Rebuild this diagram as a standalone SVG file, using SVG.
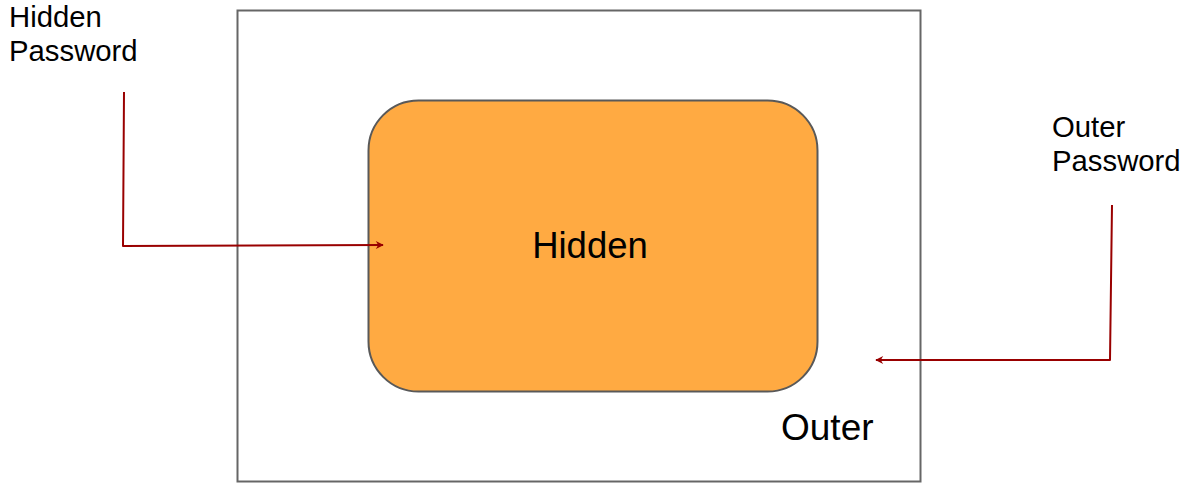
<svg xmlns="http://www.w3.org/2000/svg" width="1181" height="483" viewBox="0 0 1181 483">
<defs>
<style>
.lbl{font-family:"Liberation Sans",Arial,sans-serif;fill:#000}
.conn{fill:none;stroke:#990000;stroke-width:2;stroke-linejoin:round}
</style>
<marker id="ah" viewBox="0 0 10 10" refX="9" refY="5" markerWidth="9" markerHeight="8" markerUnits="userSpaceOnUse" orient="auto">
<path d="M0,0 L10,5 L0,10 L3,5 Z" fill="#990000"/>
</marker>
</defs>
<rect width="1181" height="483" fill="#fff"/>
<g id="outer">
<rect x="237.5" y="10.5" width="683" height="471" fill="#fff" stroke="#666" stroke-width="2"/>
<text class="lbl" x="781" y="440" font-size="37">Outer</text>
</g>
<g id="hidden">
<rect x="368.5" y="100.5" width="449" height="291" rx="50" ry="50" fill="#FFAA42" stroke="#595959" stroke-width="2"/>
<text class="lbl" x="590" y="258" font-size="36.5" text-anchor="middle">Hidden</text>
</g>
<g id="hidden-password">
<text class="lbl" x="9" y="27" font-size="29.3">Hidden</text>
<text class="lbl" x="9" y="61" font-size="29.3">Password</text>
</g>
<g id="outer-password">
<text class="lbl" x="1052" y="137" font-size="29.3">Outer</text>
<text class="lbl" x="1052" y="171" font-size="29.3">Password</text>
</g>
<g id="connectors">
<path class="conn" d="M124,92 L123,246 L383,245" marker-end="url(#ah)"/>
<path class="conn" d="M1112,205 L1110,360 L876,360" marker-end="url(#ah)"/>
</g>
</svg>
